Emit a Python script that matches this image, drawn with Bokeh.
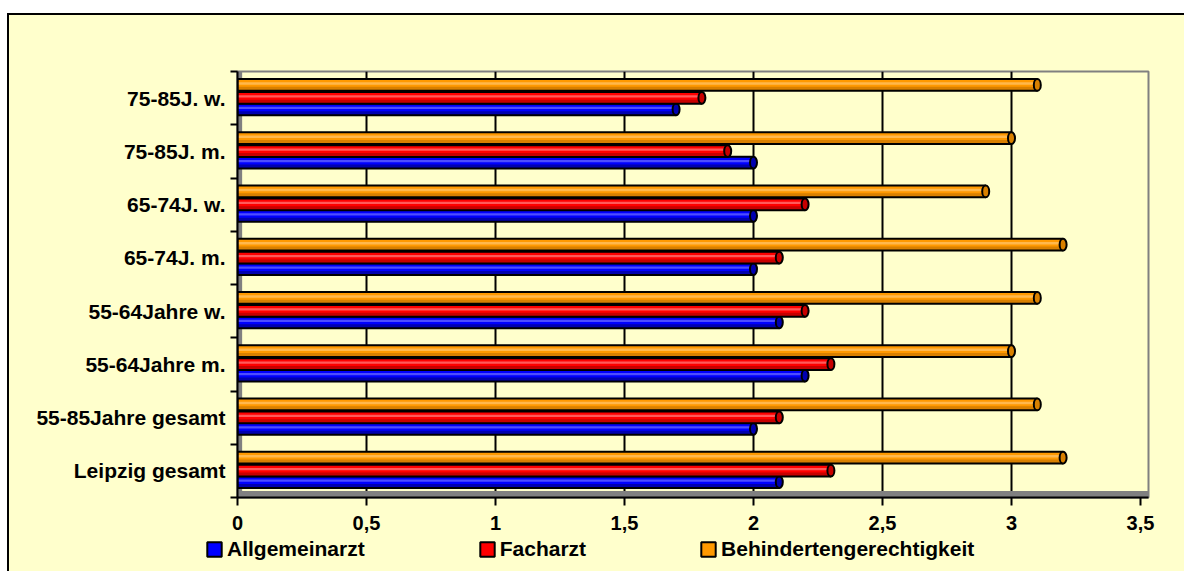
import numpy as np
from bokeh.plotting import figure
from bokeh.layouts import column
from bokeh.models import (Range1d, FixedTicker, Legend, LegendItem, BoxAnnotation,
                          ColumnDataSource)
from bokeh.embed import file_html
from bokeh.resources import INLINE

# ---------------- data ----------------
categories = ["Leipzig gesamt", "55-85Jahre gesamt", "55-64Jahre m.", "55-64Jahre w.",
              "65-74J. m.", "65-74J. w.", "75-85J. m.", "75-85J. w."]
allgemeinarzt = [2.1, 2.0, 2.2, 2.1, 2.0, 2.0, 2.0, 1.7]
facharzt = [2.3, 2.1, 2.3, 2.2, 2.1, 2.2, 1.9, 1.8]
behindertengerechtigkeit = [3.2, 3.1, 3.0, 3.1, 3.2, 2.9, 3.0, 3.1]
series_names = ["Allgemeinarzt", "Facharzt", "Behindertengerechtigkeit"]
x_tick_values = [0, 0.5, 1, 1.5, 2, 2.5, 3, 3.5]
x_tick_labels = ["0", "0,5", "1", "1,5", "2", "2,5", "3", "3,5"]

# ---------------- style ----------------
BG = "#FFFFCC"
FONT = "Liberation Sans"
H = 0.22  # bar thickness (category units)

p = figure(width=1175, height=523, x_range=Range1d(0, 3.531), y_range=Range1d(0, 8),
           output_backend="svg", toolbar_location=None,
           min_border_left=228, min_border_right=36, min_border_top=56, min_border_bottom=41)
p.background_fill_color = BG
p.border_fill_color = BG
p.outline_line_color = "#808080"
p.outline_line_width = 2

# grid
p.ygrid.visible = False
p.xgrid.ticker = FixedTicker(ticks=x_tick_values[1:-1])
p.xgrid.grid_line_color = "black"
p.xgrid.grid_line_width = 2

# walls (3D look)
p.add_layout(BoxAnnotation(left=0, right=0.018, fill_color="#808080", fill_alpha=1,
                           line_color=None, level="underlay"))
p.add_layout(BoxAnnotation(bottom=0, top=0.12, fill_color="#808080", fill_alpha=1,
                           line_color=None, level="underlay"))

# x axis
xa = p.xaxis[0]
xa.ticker = FixedTicker(ticks=x_tick_values)
xa.major_label_overrides = {float(v): l for v, l in zip(x_tick_values, x_tick_labels)}
xa.axis_line_color = "black"
xa.axis_line_width = 2
xa.major_tick_out = 8
xa.major_tick_in = 0
xa.major_tick_line_width = 2
xa.major_tick_line_color = "black"
xa.minor_tick_line_color = None
xa.major_label_text_font = FONT
xa.major_label_text_font_size = "20px"
xa.major_label_text_font_style = "bold"
xa.major_label_text_color = "black"
xa.major_label_standoff = 10

# y axis
ya = p.yaxis[0]
ya.ticker = FixedTicker(ticks=[i + 0.5 for i in range(len(categories))],
                        minor_ticks=list(range(len(categories) + 1)))
ya.major_label_overrides = {i + 0.5: c for i, c in enumerate(categories)}
ya.axis_line_color = "black"
ya.axis_line_width = 2
ya.major_tick_line_color = None
ya.major_tick_out = 0
ya.major_tick_in = 0
ya.minor_tick_out = 7
ya.minor_tick_in = 0
ya.minor_tick_line_color = "black"
ya.minor_tick_line_width = 2
ya.major_label_text_font = FONT
ya.major_label_text_font_size = "21px"
ya.major_label_text_font_style = "bold"
ya.major_label_text_color = "black"
ya.major_label_standoff = 5


def cylinder(values, offset, main, light, dark):
    vals = np.array(values, dtype=float)
    ys = np.arange(len(vals)) + offset
    src = ColumnDataSource(dict(y=ys, y_dark=ys - H * 0.33, y_light=ys + H * 0.12, right=vals))
    p.hbar(y="y", right="right", left=0, height=H, source=src, fill_color=main, line_color=None)
    p.hbar(y="y_dark", right="right", left=0, height=H * 0.34, source=src,
           fill_color=dark, line_color=None)
    p.hbar(y="y_light", right="right", left=0, height=H * 0.2, source=src,
           fill_color=light, line_color=None)
    p.hbar(y="y", right="right", left=0, height=H, source=src, fill_color=None,
           line_color="black", line_width=2)
    p.ellipse(x="right", y="y", width=7, height=H, width_units="screen", source=src,
              fill_color=dark, line_color="black", line_width=2)


colors_main = ["#0000FF", "#FF0000", "#FF9900"]
colors_light = ["#4D4DFF", "#FF5A5A", "#FFB84D"]
colors_dark = ["#0000B0", "#C80000", "#D98000"]
offsets = [0.29, 0.505, 0.748]
for vals, off, cm, cl, cd in zip([allgemeinarzt, facharzt, behindertengerechtigkeit],
                                 offsets, colors_main, colors_light, colors_dark):
    cylinder(vals, off, cm, cl, cd)

# ---------------- legend strip (second figure directly below) ----------------
q = figure(width=1175, height=33, x_range=Range1d(0, 1), y_range=Range1d(0, 1),
           output_backend="svg", toolbar_location=None, x_axis_type=None, y_axis_type=None,
           min_border_left=0, min_border_right=0, min_border_top=0, min_border_bottom=0)
q.background_fill_color = BG
q.border_fill_color = BG
q.outline_line_color = None
q.grid.visible = False

for fig in (p, q):
    if "frame_align" in fig.properties():
        fig.frame_align = False

items = []
for name, cm in zip(series_names, colors_main):
    # legend swatch renderer: a degenerate box outside the visible range
    r = q.hbar(y=[-5], left=[0], right=[0], height=0, fill_color=cm,
               line_color="black", line_width=2)
    items.append(LegendItem(label=name, renderers=[r]))
leg = Legend(items=items, location=(196, 10), orientation="horizontal",
             glyph_width=18, glyph_height=18, label_standoff=4,
             label_text_font=FONT, label_text_font_size="21px",
             label_text_font_style="bold", label_text_color="black",
             background_fill_alpha=0, border_line_color=None,
             padding=0, margin=0, spacing=113)
q.add_layout(leg, "center")

layout = column(p, q, spacing=0)
layout.margin = (13, 0, 0, 7)
layout.styles = {"border-top": "2px solid #000000", "border-left": "2px solid #000000",
                 "background-color": BG}
open("out.html", "w").write(file_html(layout, INLINE))
